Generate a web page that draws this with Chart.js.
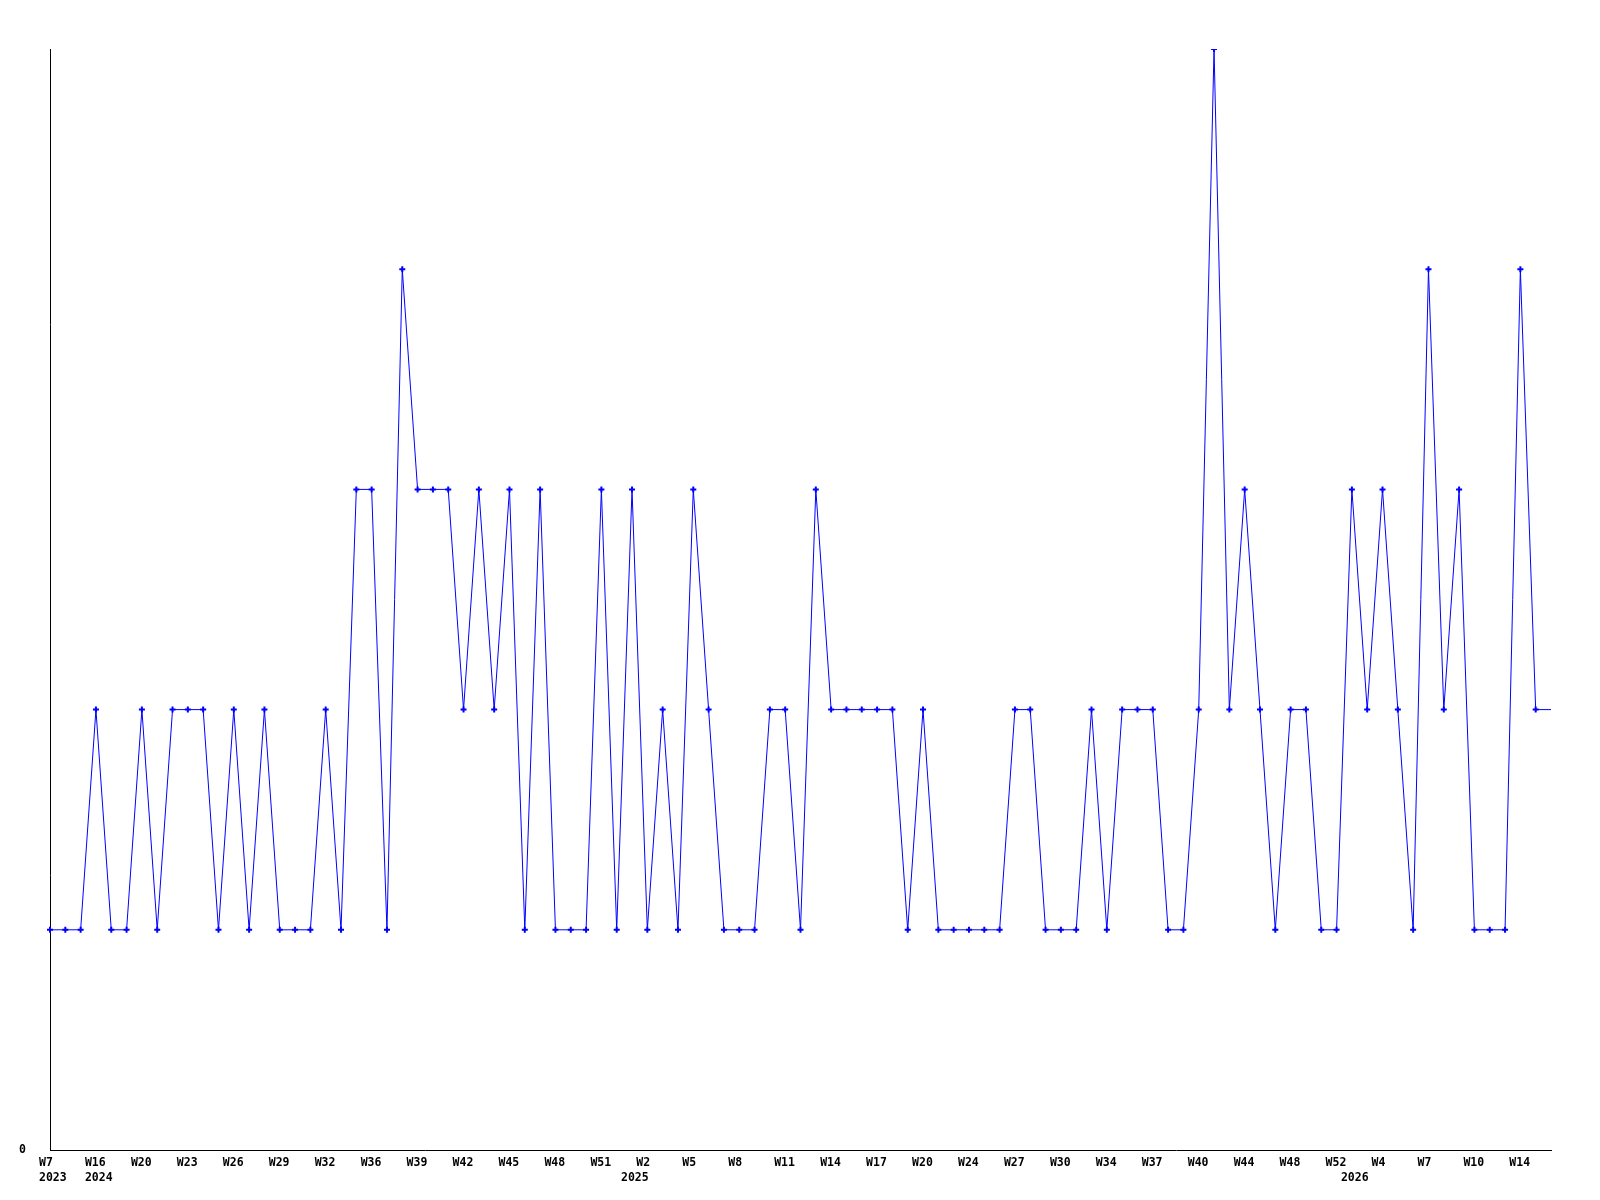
<!DOCTYPE html>
<html>
<head>
<meta charset="utf-8">
<title>Weekly count</title>
<script src="https://cdn.jsdelivr.net/npm/chart.js@4.4.1/dist/chart.umd.min.js"></script>
<style>
  html, body { margin: 0; padding: 0; background: #fff; }
  #chart { display: block; }
</style>
</head>
<body>
<canvas id="chart" width="1600" height="1200"></canvas>
<script>
// one value per week (last point is the running week, drawn without a marker)
const counts = [
    1, 1, 1, 2, 1, 1, 2, 1, 2, 2, 2, 1, 2, 1, 2, 1, 1, 1, 2, 1,
    3, 3, 1, 4, 3, 3, 3, 2, 3, 2, 3, 1, 3, 1, 1, 1, 3, 1, 3, 1,
    2, 1, 3, 2, 1, 1, 1, 2, 2, 1, 3, 2, 2, 2, 2, 2, 1, 2, 1, 1,
    1, 1, 1, 2, 2, 1, 1, 1, 2, 1, 2, 2, 2, 1, 1, 2, 5, 2, 3, 2,
    1, 2, 2, 1, 1, 3, 2, 3, 2, 1, 4, 2, 3, 1, 1, 1, 4, 2, 2
];

// week tick labels, shown on every third week
const weekTicks = [
    'W7', 'W16', 'W20', 'W23', 'W26', 'W29', 'W32', 'W36', 'W39', 'W42', 'W45',
    'W48', 'W51', 'W2', 'W5', 'W8', 'W11', 'W14', 'W17', 'W20', 'W24', 'W27',
    'W30', 'W34', 'W37', 'W40', 'W44', 'W48', 'W52', 'W4', 'W7', 'W10', 'W14'
];

// year labels and the week they start at
const years = ['2023', '2024', '2025', '2026'];
const yearStart = [0, 3, 38, 85];

const yMin = 0;
const yMax = 5;

// ============================================
// build category labels (two lines: week / year)
// ============================================
const labels = counts.map((_, i) => {
    const week = i % 3 === 0 ? (weekTicks[i / 3] || '') : '';
    const y = yearStart.indexOf(i);
    const year = y >= 0 ? years[y] : '';
    if (!week && !year) return '';
    return year ? [week, year] : week;
});

const radii = counts.map((_, i) => i === counts.length - 1 ? 0 : 3);

const tickFont = {
    family: '"DejaVu Sans Mono", monospace',
    size: 11.5,
    weight: 'bold',
    lineHeight: '15px'
};

const ctx = document.getElementById('chart').getContext('2d');
new Chart(ctx, {
    type: 'line',
    data: {
        labels: labels,
        datasets: [{
            data: counts,
            borderColor: '#0000ff',
            backgroundColor: '#0000ff',
            borderWidth: 1,
            tension: 0,
            pointStyle: 'cross',
            pointRadius: radii,
            pointBorderWidth: 2,
            pointBorderColor: '#0000ff',
            pointBackgroundColor: '#0000ff'
        }]
    },
    options: {
        responsive: false,
        animation: false,
        layout: {
            autoPadding: false,
            padding: { top: 49, right: 49, bottom: 0, left: 0 }
        },
        plugins: {
            legend: { display: false },
            tooltip: { enabled: false }
        },
        scales: {
            x: {
                type: 'category',
                offset: false,
                grid: { display: false, drawTicks: false },
                border: { display: true, color: '#000', width: 1 },
                ticks: {
                    autoSkip: false,
                    maxRotation: 0,
                    minRotation: 0,
                    align: 'start',
                    labelOffset: -11,
                    padding: 5.5,
                    color: '#000',
                    font: tickFont
                },
                afterFit: s => { s.height = 50; }
            },
            y: {
                min: yMin,
                max: yMax,
                grid: { display: false, drawTicks: false },
                border: { display: true, color: '#000', width: 1 },
                ticks: {
                    stepSize: 1,
                    padding: 24,
                    color: '#000',
                    font: tickFont,
                    callback: v => v === 0 ? '0' : null
                },
                afterFit: s => { s.width = 50; }
            }
        }
    }
});
</script>
</body>
</html>
